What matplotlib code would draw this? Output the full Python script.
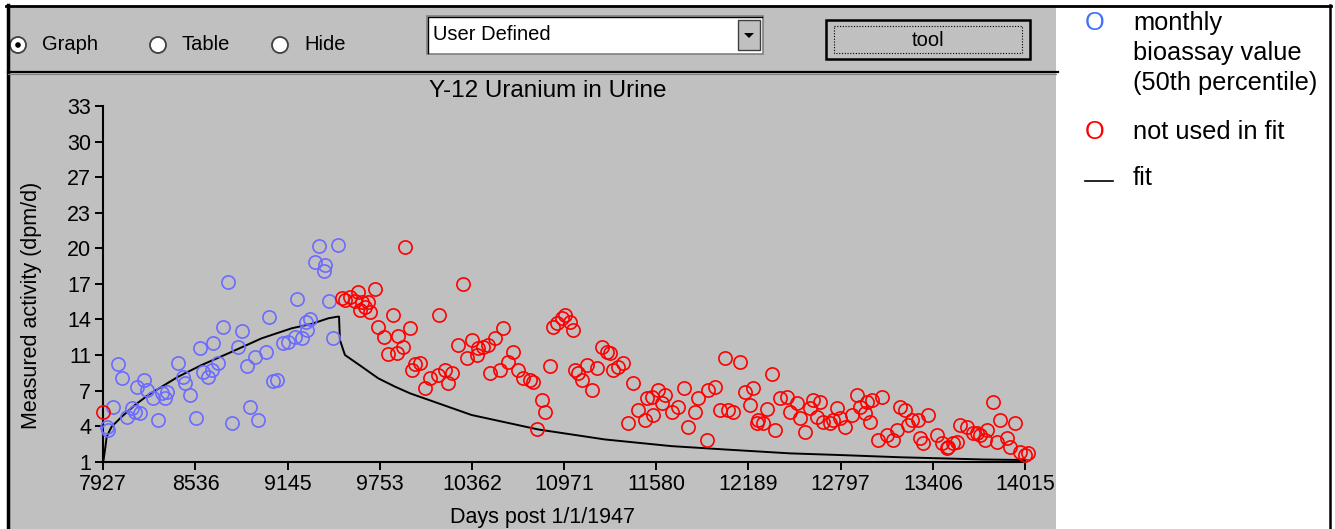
import matplotlib.pyplot as plt
from matplotlib.patches import Rectangle, Circle, Polygon

plt.rcParams['font.family'] = ['Liberation Sans', 'DejaVu Sans']

# monthly bioassay values (50th percentile) used in the fit
used_days = [7949, 7960, 7993, 8022, 8048, 8082, 8115, 8136, 8148, 8169, 8198, 8214,
             8257, 8290, 8313, 8334, 8346, 8418, 8455, 8467, 8500, 8537, 8566, 8585,
             8618, 8645, 8653, 8687, 8720, 8749, 8775, 8819, 8841, 8874, 8896, 8929,
             8951, 9000, 9023, 9046, 9076, 9116, 9149, 9193, 9208, 9237, 9266, 9274,
             9292, 9325, 9352, 9387, 9391, 9418, 9446, 9479]
used_vals = [4.15, 3.85, 5.95, 9.8, 8.5, 5.05, 5.8, 5.5, 7.75, 5.35, 8.35, 7.45,
             6.7, 4.75, 7.15, 6.7, 7.3, 9.85, 8.65, 8.05, 7.0, 4.9, 11.25, 9.07,
             8.62, 9.25, 11.65, 9.85, 13.1, 17.2, 4.45, 11.3, 12.8, 9.6, 5.95, 10.45,
             4.75, 10.9, 14.0, 8.3, 8.35, 11.65, 11.8, 12.25, 15.6, 12.1, 13.55, 12.85,
             13.8, 19.0, 20.4, 18.2, 18.7, 15.5, 12.1, 20.5]

# values not used in the fit
unused_days = [7927, 9502, 9523, 9556, 9589, 9611, 9622, 9634, 9656, 9677, 9689, 9722,
               9743, 9783, 9809, 9842, 9865, 9875, 9908, 9920, 9953, 9966, 9986, 10019,
               10052, 10085, 10140, 10144, 10184, 10206, 10228, 10272, 10305, 10327, 10360, 10393,
               10404, 10437, 10470, 10481, 10514, 10547, 10569, 10602, 10635, 10668, 10701, 10745,
               10767, 10790, 10823, 10844, 10877, 10899, 10922, 10955, 10977, 11010, 11031, 11042,
               11064, 11087, 11120, 11153, 11186, 11219, 11252, 11274, 11296, 11329, 11362, 11395,
               11428, 11461, 11505, 11516, 11549, 11560, 11593, 11615, 11637, 11681, 11725, 11765,
               11791, 11835, 11857, 11912, 11923, 11967, 12000, 12033, 12055, 12088, 12132, 12165,
               12198, 12220, 12243, 12253, 12286, 12309, 12342, 12363, 12396, 12441, 12463, 12507,
               12529, 12562, 12595, 12617, 12639, 12661, 12683, 12727, 12749, 12771, 12793, 12826,
               12870, 12903, 12925, 12958, 12969, 12991, 13002, 13046, 13068, 13101, 13145, 13167,
               13189, 13222, 13244, 13266, 13310, 13321, 13343, 13376, 13432, 13464, 13497, 13508,
               13541, 13564, 13585, 13630, 13673, 13696, 13719, 13752, 13762, 13805, 13828, 13850,
               13894, 13916, 13949, 13982, 14015, 14037]
unused_vals = [5.5, 15.7, 15.55, 15.85, 15.5, 16.3, 14.65, 15.4, 14.95, 15.4, 14.5, 16.5,
               13.15, 12.25, 10.7, 14.2, 10.75, 12.3, 11.35, 20.35, 13.0, 9.25, 9.8, 9.85,
               7.6, 8.5, 8.8, 14.2, 9.25, 8.05, 8.95, 11.5, 16.95, 10.3, 11.95, 10.6,
               11.2, 11.35, 11.5, 8.95, 12.1, 9.25, 13.0, 10.0, 10.9, 9.25, 8.5, 8.35,
               8.2, 3.9, 6.55, 5.45, 9.6, 13.15, 13.45, 13.9, 14.2, 13.6, 12.85, 9.25,
               8.95, 8.35, 9.7, 7.45, 9.4, 11.35, 10.9, 10.75, 9.25, 9.55, 9.85, 4.45,
               8.1, 5.65, 4.75, 6.7, 6.85, 5.2, 7.45, 6.25, 7.0, 5.5, 5.95, 7.6,
               4.15, 5.5, 6.7, 2.95, 7.45, 7.75, 5.65, 10.3, 5.65, 5.5, 10.0, 7.3,
               6.1, 7.6, 4.45, 4.75, 4.45, 5.7, 8.85, 3.85, 6.7, 6.85, 5.5, 6.25,
               4.9, 3.7, 5.8, 6.55, 5.05, 6.4, 4.6, 4.45, 4.75, 5.8, 4.9, 4.15,
               5.2, 7.0, 5.95, 5.35, 6.4, 4.6, 6.55, 2.95, 6.85, 3.4, 2.95, 3.85,
               5.95, 5.65, 4.3, 4.75, 4.75, 3.1, 2.65, 5.2, 3.4, 2.65, 2.2, 2.35,
               2.65, 2.8, 4.3, 4.15, 3.55, 3.55, 3.4, 2.95, 3.85, 6.4, 2.8, 4.75,
               3.1, 2.35, 4.45, 1.9, 1.6, 1.75]

# fitted curve
fit_days = [7927, 7938, 7949, 7960, 7982, 8049, 8136, 8224, 8313, 8422, 8577, 8753,
            8973, 9171, 9303, 9413, 9475, 9484, 9490, 9523, 9634, 9743, 9854, 9953,
            10360, 10800, 11241, 11681, 12033, 12463, 12793, 13189, 13739, 14015]
fit_vals = [1.0, 2.05, 3.2, 3.55, 4.15, 5.05, 6.1, 7.0, 7.75, 8.65, 9.7, 10.75,
            12.1, 13.0, 13.4, 13.9, 14.05, 14.05, 11.95, 10.6, 9.55, 8.5, 7.75, 7.15,
            5.2, 3.9, 3.0, 2.4, 2.1, 1.75, 1.6, 1.4, 1.2, 1.15]

x_tick_pos = [7927, 8535.8, 9144.6, 9753.4, 10362.2, 10971, 11579.8, 12188.6, 12797.4, 13406.2, 14015]
x_tick_labels = ['7927', '8536', '9145', '9753', '10362', '10971', '11580', '12189', '12797', '13406', '14015']
y_tick_pos = [1, 4.2, 7.4, 10.6, 13.8, 17, 20.2, 23.4, 26.6, 29.8, 33]
y_tick_labels = ['1', '4', '7', '11', '14', '17', '20', '23', '27', '30', '33']

W, H = 1335, 529
gray = '#c0c0c0'
blue = '#6b6bff'

fig = plt.figure(figsize=(W / 100, H / 100), dpi=100)
fig.patch.set_facecolor('white')

# window chrome, drawn in pixel coordinates
ui = fig.add_axes([0, 0, 1, 1], zorder=0)
ui.set_xlim(0, W)
ui.set_ylim(H, 0)
ui.axis('off')

ui.add_patch(Rectangle((8, 6), 1048, H - 6, fc=gray, ec='none'))
ui.plot([6, 1331], [5.5, 5.5], color='black', lw=2)
ui.plot([7.5, 7.5], [5, H], color='black', lw=2.5)
ui.plot([1330, 1330], [5, H], color='black', lw=1.8)
ui.plot([8, 1058], [72, 72], color='black', lw=1.6)
ui.plot([8, 1056], [74, 74], color='#808080', lw=0.8)

# radio buttons
for cx, label, on in [(18, 'Graph', True), (158, 'Table', False), (280, 'Hide', False)]:
    ui.add_patch(Circle((cx, 45), 8, fc='white', ec='#404040', lw=1.3))
    if on:
        ui.add_patch(Circle((cx, 45), 2.8, fc='black', ec='none'))
    ui.text(cx + 24, 45, label, fontsize=14.5, va='center', ha='left', color='black')

# combo box
ui.add_patch(Rectangle((427, 16), 336, 38, fc='white', ec='#808080', lw=1.2))
ui.plot([428, 428, 762], [53, 17, 17], color='black', lw=1)
ui.add_patch(Rectangle((738, 20), 22, 30, fc=gray, ec='#404040', lw=1))
ui.add_patch(Polygon([[744, 33], [754, 33], [749, 38]], closed=True, fc='black', ec='none'))
ui.text(433, 35, 'User Defined', fontsize=14.5, va='center', ha='left', color='black')

# tool button
ui.add_patch(Rectangle((826, 20), 204, 39, fc=gray, ec='black', lw=1.8))
ui.add_patch(Rectangle((834, 26), 188, 27, fc='none', ec='black', lw=0.8, ls=(0, (1, 1.5))))
ui.text(928, 40, 'tool', fontsize=14.5, va='center', ha='center', color='black')

# legend panel
leg_fs = 18.3
ui.text(1095, 23, 'O', fontsize=leg_fs, color='#4070ff', ha='center', va='center')
for yy, line in [(23, 'monthly'), (53, 'bioassay value'), (83, '(50th percentile)')]:
    ui.text(1133, yy, line, fontsize=leg_fs, ha='left', va='center', color='black')
ui.text(1095, 132, 'O', fontsize=leg_fs, color='red', ha='center', va='center')
ui.text(1133, 132, 'not used in fit', fontsize=leg_fs, ha='left', va='center', color='black')
ui.plot([1085, 1113], [181, 181], color='black', lw=1.2)
ui.text(1133, 178, 'fit', fontsize=leg_fs, ha='left', va='center', color='black')

ui.text(548, 91, 'Y-12 Uranium in Urine', fontsize=17.5, ha='center', va='center', color='black')
ui.text(543, 517, 'Days post 1/1/1947', fontsize=15.5, ha='center', va='center', color='black')
ui.text(32, 305, 'Measured activity (dpm/d)', fontsize=15.5, ha='center', va='center',
        rotation=90, color='black')

# chart
ax = fig.add_axes([103.3 / W, 1 - 461.7 / H, (1025 - 103.3) / W, (461.7 - 106) / H], zorder=2)
ax.set_facecolor('none')
ax.plot(fit_days, fit_vals, color='black', lw=1.4, clip_on=False, zorder=2)
ax.plot(used_days, used_vals, 'o', mfc='none', mec=blue, ms=9.5, mew=1.2, clip_on=False, zorder=3)
ax.plot(unused_days, unused_vals, 'o', mfc='none', mec='red', ms=9.5, mew=1.2, clip_on=False, zorder=3)

ax.set_xlim(7927, 14015)
ax.set_ylim(1, 33)
ax.set_xticks(x_tick_pos)
ax.set_xticklabels(x_tick_labels)
ax.set_yticks(y_tick_pos)
ax.set_yticklabels(y_tick_labels)
ax.tick_params(direction='out', length=5.8, width=1.4, labelsize=15.5, pad=3, colors='black')
for s in ['top', 'right']:
    ax.spines[s].set_visible(False)
for s in ['left', 'bottom']:
    ax.spines[s].set_linewidth(1.5)

fig.savefig('out.png', dpi=100, facecolor='white')
